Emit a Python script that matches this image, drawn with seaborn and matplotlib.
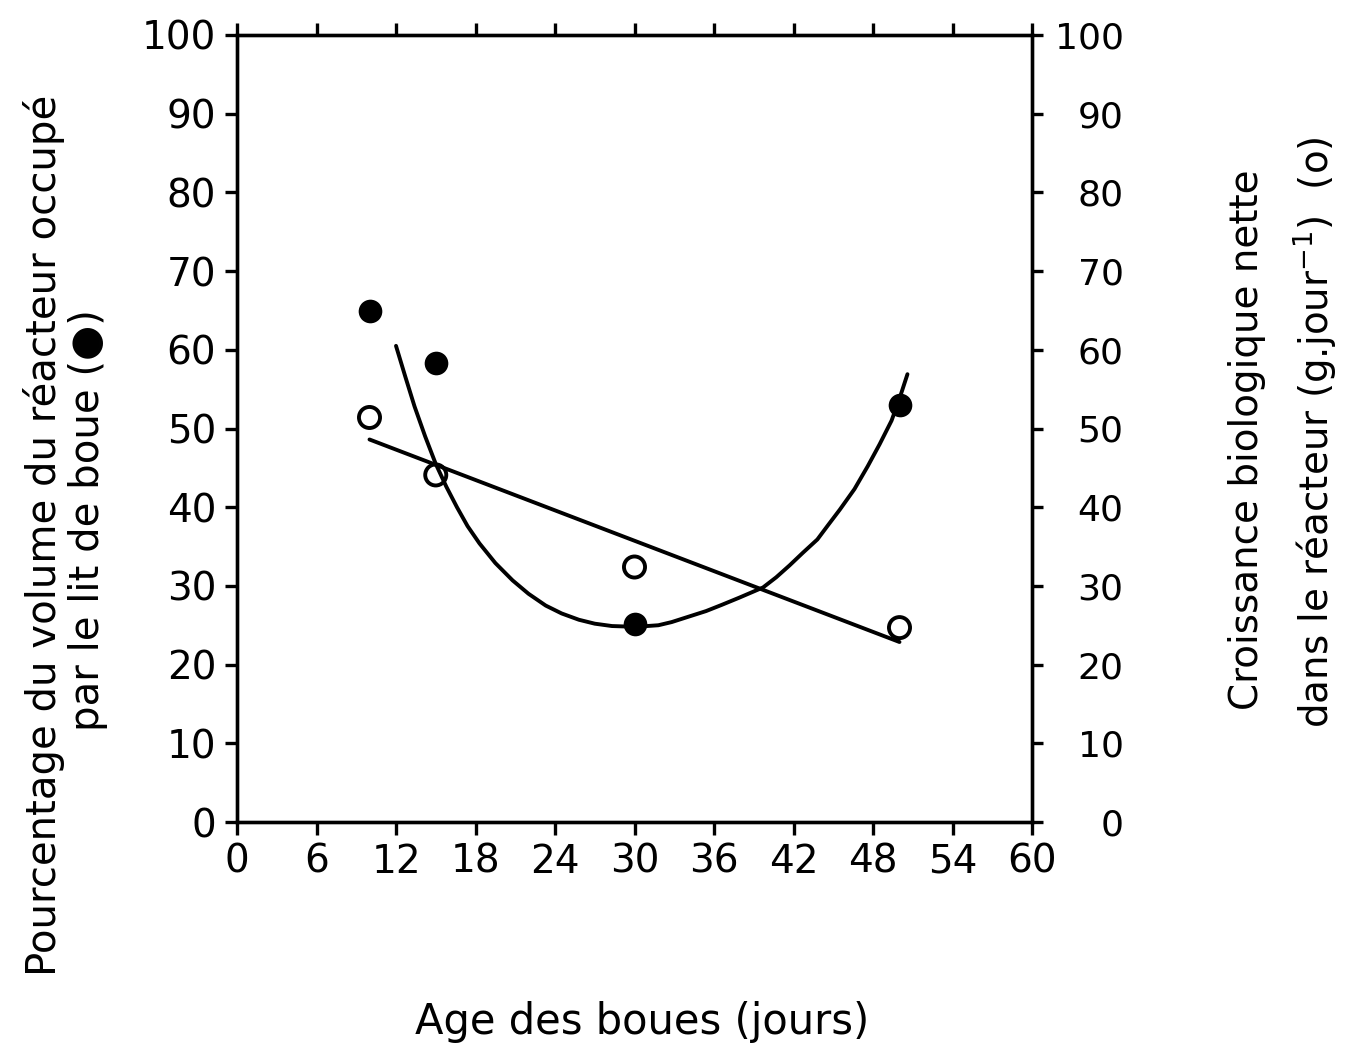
import matplotlib
matplotlib.use("Agg")
import matplotlib.pyplot as plt
import seaborn as sns

# ---- data ----
days = [10, 15, 30, 50]
volume_pct = [64.9, 58.3, 25.2, 53.0]      # filled circles, left axis
growth = [51.4, 44.1, 32.4, 24.7]          # open circles, right axis

# hand-drawn curve through the filled points
curve_days = [12.0, 12.7, 13.4, 14.2, 15.0, 15.8, 16.6, 17.4, 18.3, 19.5, 20.8,
              22.0, 23.3, 24.5, 25.8, 27.0, 28.3, 30.1, 31.8, 32.8, 34.1, 35.4,
              36.6, 37.9, 39.7, 40.7, 41.7, 42.7, 43.8, 44.6, 45.5, 46.6, 47.6,
              48.5, 49.4, 50.0, 50.6]
curve_pct = [60.5, 56.6, 52.8, 49.0, 45.5, 42.6, 40.0, 37.6, 35.4, 32.9, 30.7,
             29.0, 27.5, 26.5, 25.7, 25.2, 24.9, 24.8, 25.0, 25.4, 26.1, 26.8,
             27.6, 28.5, 29.8, 31.1, 32.6, 34.2, 35.9, 37.7, 39.7, 42.3, 45.2,
             48.0, 51.0, 53.8, 56.9]

x_ticks = [0, 6, 12, 18, 24, 30, 36, 42, 48, 54, 60]
y_ticks = [0, 10, 20, 30, 40, 50, 60, 70, 80, 90, 100]

x_label = "Age des boues (jours)"
left_label_1 = "Pourcentage du volume du réacteur occupé"
left_label_2 = "par le lit de boue (●)"
right_label_1 = "Croissance biologique nette"
right_label_2 = "dans le réacteur (g.jour$^{-1}$)  (o)"

# ---- style ----
sns.set_theme(style="ticks")
plt.rcParams['font.family'] = ['DejaVu Sans']
plt.rcParams['mathtext.fontset'] = 'dejavusans'
plt.rcParams['text.color'] = 'black'

W, H = 1353, 1049
fig = plt.figure(figsize=(W / 100, H / 100), dpi=100)
fig.patch.set_facecolor("white")

L, R, T, B = 237, 1032, 35, 822
ax = fig.add_axes([L / W, 1 - B / H, (R - L) / W, (B - T) / H])
ax.set_facecolor("white")

lw = 2.8
fs = 28

# curve (left axis)
sns.lineplot(x=curve_days, y=curve_pct, ax=ax, sort=False, estimator=None,
             color="black", linewidth=lw)
# filled points (left axis)
sns.scatterplot(x=days, y=volume_pct, ax=ax, color="black", s=290,
                edgecolor="black", linewidth=0, zorder=5)

ax2 = ax.twinx()
# linear regression line (right axis)
sns.regplot(x=days, y=growth, ax=ax2, ci=None, scatter=False, truncate=True,
            color="black", line_kws=dict(linewidth=lw))
# open points (right axis)
sns.scatterplot(x=days, y=growth, ax=ax2, s=230, facecolor="none",
                edgecolor="black", linewidth=2.8, zorder=5)

for a in (ax, ax2):
    a.set_xlim(0, 60)
    a.set_ylim(0, 100)
    a.set_xlabel("")
    a.set_ylabel("")
    for sp in a.spines.values():
        sp.set_linewidth(2.4)
        sp.set_color("black")

ax.set_xticks(x_ticks)
ax.set_xticklabels([str(v) for v in x_ticks])
ax.set_yticks(y_ticks)
ax.set_yticklabels([str(v) for v in y_ticks])
ax.tick_params(axis="x", which="both", direction="out", length=9, width=2.4,
               top=True, labeltop=False, bottom=True, labelsize=fs, pad=6,
               colors="black")
ax.tick_params(axis="y", direction="out", length=9, width=2.4, left=True,
               right=False, labelsize=fs, pad=6, colors="black")

ax2.set_yticks(y_ticks)
ax2.set_yticklabels([str(v) for v in y_ticks])
ax2.tick_params(axis="y", direction="out", length=8, width=2.4, right=True,
                labelsize=26, pad=58, colors="black")
for lbl in ax2.get_yticklabels():
    lbl.set_horizontalalignment("right")
ax2.tick_params(axis="x", top=False, bottom=False)

# axis titles
fig.text(642 / W, 1 - 1022 / H, x_label, ha="center", va="center",
         fontsize=30, color="black")
fig.text(44 / W, 1 - 535 / H, left_label_1, rotation=90, ha="center",
         va="center", fontsize=29, color="black")
fig.text(88 / W, 1 - 520 / H, left_label_2, rotation=90, ha="center",
         va="center", fontsize=29, color="black")
fig.text(1247 / W, 1 - 440 / H, right_label_1, rotation=90, ha="center",
         va="center", fontsize=28, color="black")
fig.text(1315 / W, 1 - 432 / H, right_label_2, rotation=90, ha="center",
         va="center", fontsize=28, color="black")

fig.savefig("out.png", dpi=100, facecolor="white")
